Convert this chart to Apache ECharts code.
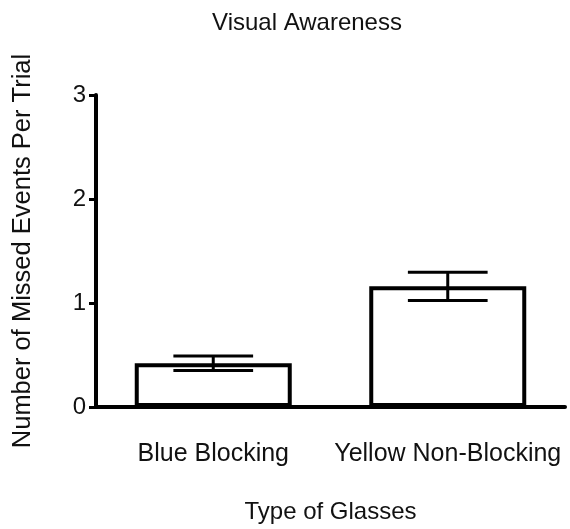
<!DOCTYPE html>
<html>
<head>
<meta charset="utf-8">
<script src="https://cdn.jsdelivr.net/npm/echarts@6/dist/echarts.min.js"></script>
<style>
  html, body { margin: 0; padding: 0; background: #fff; }
  #chart { width: 570px; height: 529px; }
</style>
</head>
<body>
<div id="chart"></div>
<script>
// Mean missed events per trial, with standard error
const categories = ['Blue Blocking', 'Yellow Non-Blocking'];
const means = [0.42, 1.16];
const sems = [0.07, 0.135];
const yTicks = [0, 1, 2, 3];

const FONT = '"Liberation Sans", Arial, sans-serif';

const chart = echarts.init(document.getElementById('chart'), null, { renderer: 'canvas' });

const errorData = means.map((m, i) => [i, m - sems[i], m + sems[i]]);

chart.setOption({
  animation: false,
  backgroundColor: '#ffffff',
  title: {
    text: 'Visual Awareness',
    left: 302,
    top: 6,
    textAlign: 'center',
    textStyle: { fontFamily: FONT, fontSize: 24, fontWeight: 'normal', color: '#111' }
  },
  grid: { left: 96, right: 5, top: 95, bottom: 121.5, containLabel: false },
  xAxis: {
    type: 'category',
    data: categories,
    name: 'Type of Glasses',
    nameLocation: 'middle',
    nameGap: 93,
    nameTextStyle: { fontFamily: FONT, fontSize: 24, color: '#111' },
    axisLine: { show: true, lineStyle: { color: '#000', width: 4 } },
    axisTick: { show: false },
    axisLabel: { fontFamily: FONT, fontSize: 25, color: '#111', margin: 35, interval: 0, hideOverlap: false },
    splitLine: { show: false }
  },
  yAxis: {
    type: 'value',
    min: yTicks[0],
    max: yTicks[yTicks.length - 1],
    interval: 1,
    name: 'Number of Missed Events Per Trial',
    nameLocation: 'middle',
    nameGap: 60,
    nameTextStyle: { fontFamily: FONT, fontSize: 25.5, color: '#111' },
    axisLine: { show: true, lineStyle: { color: '#000', width: 4 } },
    axisTick: { show: true, length: 7, lineStyle: { color: '#000', width: 3 } },
    axisLabel: { fontFamily: FONT, fontSize: 24, color: '#111', margin: 10 },
    splitLine: { show: false }
  },
  series: [
    {
      type: 'bar',
      data: means,
      barWidth: 157,
      itemStyle: { color: '#ffffff', borderColor: '#000', borderWidth: 4 },
      z: 2
    },
    {
      type: 'custom',
      data: errorData,
      z: 3,
      renderItem: function (params, api) {
        const x = api.value(0);
        const lo = api.coord([x, api.value(1)]);
        const hi = api.coord([x, api.value(2)]);
        const half = api.size([1, 0])[0] * 0.17;
        const style = { stroke: '#000', lineWidth: 3 };
        return {
          type: 'group',
          children: [
            { type: 'line', shape: { x1: lo[0], y1: lo[1], x2: hi[0], y2: hi[1] }, style: style },
            { type: 'line', shape: { x1: hi[0] - half, y1: hi[1], x2: hi[0] + half, y2: hi[1] }, style: style },
            { type: 'line', shape: { x1: lo[0] - half, y1: lo[1], x2: lo[0] + half, y2: lo[1] }, style: style }
          ]
        };
      }
    }
  ]
});
</script>
</body>
</html>
